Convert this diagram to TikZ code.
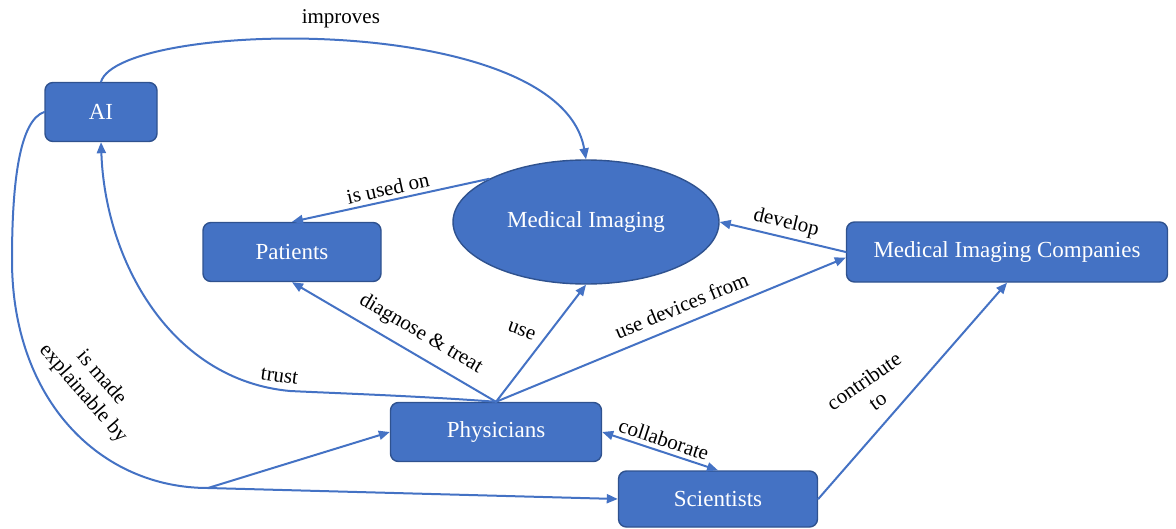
\documentclass[tikz,border=0pt]{standalone}
\usepackage{fontspec}
\setmainfont{Liberation Serif}
\usetikzlibrary{arrows.meta,shapes.geometric}
\definecolor{boxblue}{HTML}{4472C4}
\definecolor{boxedge}{HTML}{2F528F}
\begin{document}
\begin{tikzpicture}[line cap=round,line join=round,>={Triangle[length=5.5pt,width=4.5pt]},x=0.5pt,y=-0.5pt,
box/.style={draw=boxedge,line width=0.7pt,fill=boxblue,rounded corners=4pt,text=white,minimum height=29.5pt,inner sep=0pt,font=\fontsize{11.5}{13}\selectfont},
oval/.style={ellipse,draw=boxedge,line width=0.7pt,fill=boxblue,text=white,inner sep=0pt,font=\fontsize{11.5}{13}\selectfont},
link/.style={draw=boxblue,line width=1pt,->},
lbl/.style={font=\fontsize{10.5}{12}\selectfont,text=black,inner sep=2pt}]
\useasboundingbox (0,0) rectangle (1176,529);
%% Khối
\node[box,minimum width=56pt] (ai) at (101,112) {AI};
\node[oval,minimum width=133pt,minimum height=62pt] (img) at (586,222) {Medical Imaging};
\node[box,minimum width=89pt] (pat) at (292,252) {Patients};
\node[box,minimum width=160.5pt,minimum height=30pt] (comp) at (1007,252) {Medical Imaging Companies};
\node[box,minimum width=105.5pt] (phy) at (496,432) {Physicians};
\node[box,minimum width=99.5pt,minimum height=28pt] (sci) at (718,499) {Scientists};
%% Mũi tên
\draw[link] (ai.north)..controls (120,20) and (560,10)..(img.north) node[lbl,pos=.5,above=4pt]{improves};
\draw[link] (img.156)--(pat.north) node[lbl,pos=.5,sloped,above]{is used on};
\draw[link] (comp.west)--(img.east) node[lbl,pos=.5,sloped,above]{develop};
\draw[link] (phy.north)--(comp.182) node[lbl,pos=.55,sloped,above=3pt]{use devices from};
\draw[link] (phy.north)--(img.south) node[lbl,pos=.55,left=3pt,rotate=-20]{use};
\draw[link] (phy.north)--(pat.south) node[lbl,pos=.42,sloped,above=3pt]{diagnose \& treat};
\draw[link] (phy.north)..controls (420,396) and (330,393)..(290,391) node[lbl,above=2pt,xshift=-6pt,rotate=-8]{trust}..controls (170,380) and (105,260)..(ai.south);
%Giải thích được
\draw[draw=boxblue,line width=1pt] (ai.west)..controls (20,120) and (12,180)..(12,260)..controls (12,400) and (100,488)..(208,488) coordinate (j);
\node[lbl,rotate=-49,align=center] (expl) at (92,386) {is made\\explainable by};
\draw[link] (j)--(phy.west);
\draw[link] (j)--(sci.west);
\draw[link,<->] (phy.east)--(sci.north) node[lbl,pos=.5,sloped,above]{collaborate};
\draw[link] (sci.east)--(comp.south) node[lbl,pos=.5,xshift=-21pt,rotate=35,align=center]{contribute\\to};
\end{tikzpicture}
\end{document}
